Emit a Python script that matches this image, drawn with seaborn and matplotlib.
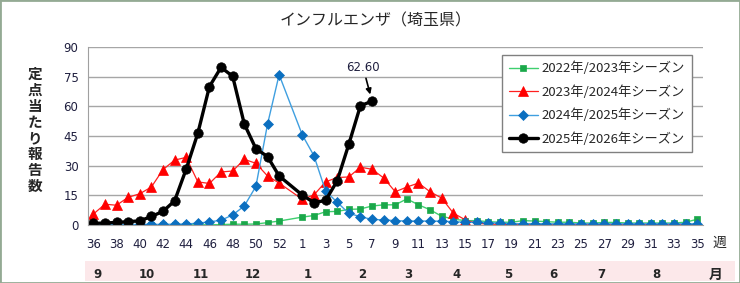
import numpy as np
import pandas as pd
import matplotlib
matplotlib.use("Agg")
from matplotlib import pyplot as plt
from matplotlib.patches import Rectangle
import seaborn as sns

sns.set_style("white")
plt.rcParams['font.family'] = ['Noto Sans CJK JP', 'DejaVu Sans']
plt.rcParams['axes.unicode_minus'] = False

# 週 (36週〜53週, 1週〜35週)
weeks = list(range(36, 54)) + list(range(1, 36))
nan = np.nan

s2022 = [0.1, 0.1, 0.1, 0.1, 0.1, 0.1, 0.1, 0.1, 0.1, 0.1, 0.1, 0.2, 0.4, 0.4, 0.5, 1.2, 2.0, nan,
         4.0, 4.8, 6.7, 6.9, 7.9, 8.1, 9.6, 10.2, 10.2, 13.2, 10.2, 7.7, 4.4, 3.0, 2.2, 2.2, 1.7,
         1.4, 1.4, 2.2, 2.0, 1.7, 1.4, 1.4, 1.0, 1.0, 1.3, 1.3, 1.0, 1.0, 1.0, 1.0, 1.0, 1.4, 2.9]
s2023 = [5.5, 10.5, 10.0, 14.0, 15.8, 19.2, 28.0, 32.8, 34.2, 21.8, 21.0, 26.8, 27.3, 33.2, 31.2, 24.8, 21.2, nan,
         13.0, 15.2, 21.8, 24.0, 24.3, 29.2, 28.2, 23.8, 16.8, 19.2, 21.2, 16.8, 13.6, 6.0, 2.7, 0.9, 0.5,
         0.3, 0.2, 0.2, 0.3, 0.2, 0.2, 0.2, 0.2, 0.2, 0.3, 0.2, 0.2, 0.2, 0.2, 0.2, 0.2, 0.2, 0.3]
s2024 = [0.2, 0.2, 0.2, 0.2, 0.3, 0.3, 0.3, 0.4, 0.5, 0.9, 1.6, 2.4, 5.1, 9.6, 19.5, 50.9, 76.0, nan,
         45.5, 35.0, 17.2, 11.5, 5.9, 4.2, 2.8, 2.6, 2.2, 2.0, 2.0, 2.0, 1.9, 1.7, 1.4, 1.3, 1.2,
         0.9, 0.7, 0.7, 0.7, 0.6, 0.6, 0.6, 0.6, 0.6, 0.6, 0.6, 0.6, 0.6, 0.6, 0.6, 0.6, 0.6, 0.6]
s2025 = [0.8, 1.0, 1.3, 1.7, 2.1, 4.3, 6.9, 12.2, 28.3, 46.4, 70.0, 79.7, 75.2, 51.1, 38.6, 34.6, 24.8, nan,
         15.1, 11.3, 12.4, 22.3, 40.8, 60.3, 62.60]

labels = ["2022年/2023年シーズン", "2023年/2024年シーズン", "2024年/2025年シーズン", "2025年/2026年シーズン"]
months = ["9", "10", "11", "12", "1", "2", "3", "4", "5", "6", "7", "8"]

styles = [
    dict(color="#3fcf6f", marker="s", markersize=4.5, linewidth=1.0, mfc="#1aa84a", mec="#1aa84a"),
    dict(color="#ff2020", marker="^", markersize=7.5, linewidth=0.9, mfc="#ff0000", mec="#ff0000"),
    dict(color="#3f9fe0", marker="D", markersize=4.8, linewidth=1.0, mfc="#0b6fc0", mec="#0b6fc0"),
    dict(color="black", marker="o", markersize=6.8, linewidth=2.4, mfc="black", mec="black"),
]

fig = plt.figure(figsize=(7.4, 2.83), dpi=100)
ax = fig.add_axes([87.5 / 740, 1 - 225 / 283, (703 - 87.5) / 740, (225 - 47) / 283])

for lab, vals, st in zip(labels, [s2022, s2023, s2024, s2025], styles):
    d = pd.DataFrame({"slot": np.arange(len(vals)), "v": vals}).dropna()
    st = dict(st)
    mfc = st.pop("mfc")
    mec = st.pop("mec")
    sns.lineplot(data=d, x="slot", y="v", ax=ax, label=lab, sort=False,
                 markerfacecolor=mfc, markeredgecolor=mec, markeredgewidth=0.5, **st)

ax.set_xlim(-0.5, len(weeks) - 0.5)
ax.set_ylim(0, 90)
ax.set_yticks(np.arange(0, 91, 15))
ax.set_xticks(np.arange(0, len(weeks), 2))
ax.set_xticklabels([str(w) for w in weeks[::2]], family="DejaVu Sans", fontsize=8.5, color="#1f1f3f")
ax.set_xticks(np.arange(-0.5, len(weeks), 1), minor=True)
ax.tick_params(axis="x", which="major", length=0, pad=9)
ax.tick_params(axis="x", which="minor", length=3.5, color="#a0a0a0", direction="out")
ax.tick_params(axis="y", length=3.5, color="#a0a0a0", pad=3, labelsize=8.5, labelcolor="#1f1f3f")
for t in ax.get_yticklabels():
    t.set_family("DejaVu Sans")
ax.set_xlabel("")
ax.set_ylabel("")
ax.grid(axis="y", color="#a6a6a6", linewidth=1.0)
ax.set_axisbelow(True)
for side in ["top", "right"]:
    ax.spines[side].set_visible(False)
for side in ["left", "bottom"]:
    ax.spines[side].set_color("#a0a0a0")

ax.annotate("62.60", xy=(24, 62.60), xytext=(-9, 34), textcoords="offset pixels",
            ha="center", va="center", fontsize=8.5, color="#1f1f3f", family="DejaVu Sans",
            arrowprops=dict(arrowstyle="-|>", color="black", lw=1.2, shrinkA=1, shrinkB=5,
                            mutation_scale=8))

h, l = ax.get_legend_handles_labels()
ax.legend(h, l, loc="upper left", bbox_to_anchor=(502 / 740, 1 - 55 / 283),
          bbox_transform=fig.transFigure, frameon=True, fancybox=False, edgecolor="#808080",
          framealpha=1, fontsize=9.5, borderaxespad=0, handlelength=2.2, handletextpad=0.3,
          labelspacing=0.75, borderpad=0.5)

fig.text(376 / 740, 1 - 21 / 283, "インフルエンザ（埼玉県）", ha="center", va="center", fontsize=11.5)
fig.text(35 / 740, 1 - 130 / 283, "\n".join("定点当たり報告数"), ha="center", va="center",
         fontsize=10.5, weight="bold", linespacing=1.0)
fig.text(719 / 740, 1 - 243 / 283, "週", ha="center", va="center", fontsize=10)

# 月の帯
fig.patches.append(Rectangle((85 / 740, 2 / 283), 650 / 740, 20 / 283, transform=fig.transFigure,
                             facecolor="#fce8ea", edgecolor="none", zorder=0))
month_x = [97, 147, 201, 253, 308, 362, 408, 457, 508, 553, 601, 656]
for m, x in zip(months, month_x):
    fig.text(x / 740, 1 - 275 / 283, m, ha="center", va="center", fontsize=8.5,
             weight="bold", family="DejaVu Sans")
fig.text(716 / 740, 1 - 275 / 283, "月", ha="center", va="center", fontsize=10, weight="bold")

fig.patches.append(Rectangle((0, 0), 1, 1, transform=fig.transFigure, facecolor="none",
                             edgecolor="#94aa94", linewidth=2.0, zorder=5))

fig.savefig("out.png", dpi=100)
